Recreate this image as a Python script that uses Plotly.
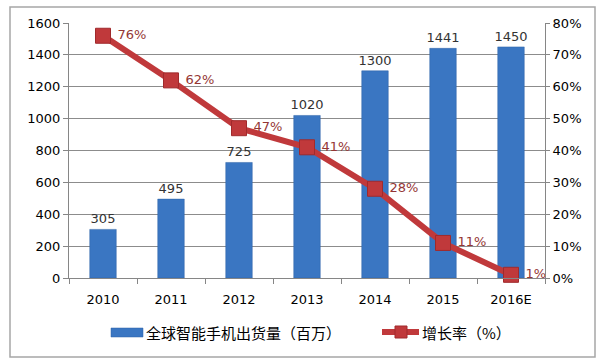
import plotly.graph_objects as go

years = ["2010", "2011", "2012", "2013", "2014", "2015", "2016E"]
shipments = [305, 495, 725, 1020, 1300, 1441, 1450]
growth = [76, 62, 47, 41, 28, 11, 1]
growth_labels = ["76%", "62%", "47%", "41%", "28%", "11%", "1%"]

bar_name = "全球智能手机出货量（百万）"
line_name = "增长率（%）"

BAR_COLOR = "#3A76C2"
LINE_COLOR = "#C0393B"

# plot area in pixels: left 69, right 545, top 23, bottom 278
L, R, T, B = 69, 545, 23, 278
def px(xp):
    return (xp - L) / (R - L)
def py(yp):
    return (B - yp) / (B - T)

fig = go.Figure()
fig.add_trace(go.Bar(
    x=years, y=shipments, name=bar_name,
    marker=dict(color=BAR_COLOR, line=dict(color="#2F62A6", width=0.5)),
    width=0.39,
    text=[str(v) for v in shipments], textposition="outside",
    textfont=dict(color="#333333", size=13, family="DejaVu Sans"),
    constraintext="none",
    cliponaxis=False, showlegend=False,
))
fig.add_trace(go.Scatter(
    x=years, y=growth, name=line_name, yaxis="y2",
    mode="lines+markers+text",
    line=dict(color=LINE_COLOR, width=6),
    marker=dict(symbol="square", size=15, color=LINE_COLOR, line=dict(color="#A02A2C", width=1)),
    text=[" " + t for t in growth_labels], textposition="middle right",
    textfont=dict(color="#943634", size=13, family="DejaVu Sans"),
    cliponaxis=False, showlegend=False,
))

shapes = [
    dict(type="rect", xref="paper", yref="paper",
         x0=px(10), x1=px(595), y0=py(357), y1=py(7),
         line=dict(color="#A6A6A6", width=1.5)),
    dict(type="rect", xref="paper", yref="paper",
         x0=px(111), x1=px(143), y0=py(337), y1=py(328),
         fillcolor=BAR_COLOR, line=dict(color="#2F62A6", width=0.5)),
    dict(type="line", xref="paper", yref="paper",
         x0=px(382), x1=px(419), y0=py(332), y1=py(332),
         line=dict(color=LINE_COLOR, width=6)),
    dict(type="rect", xref="paper", yref="paper",
         x0=px(395), x1=px(407), y0=py(338), y1=py(326),
         fillcolor=LINE_COLOR, line=dict(color="#A02A2C", width=1)),
]

annotations = [
    dict(text=bar_name, xref="paper", yref="paper", x=px(144), y=py(332),
         xanchor="left", yanchor="middle", showarrow=False,
         font=dict(family="Noto Sans CJK SC", size=15, color="#000000")),
    dict(text=line_name, xref="paper", yref="paper", x=px(420), y=py(332),
         xanchor="left", yanchor="middle", showarrow=False,
         font=dict(family="Noto Sans CJK SC", size=15, color="#000000")),
]

fig.update_layout(
    width=600, height=363,
    margin=dict(l=L, r=600 - R, t=T, b=363 - B, autoexpand=False),
    paper_bgcolor="white", plot_bgcolor="white",
    font=dict(family="DejaVu Sans, Noto Sans CJK SC", size=13, color="#000000"),
    showlegend=False,
    xaxis=dict(
        type="category", showgrid=False, showline=True, linecolor="#868686", linewidth=1,
        ticks="outside", tickson="boundaries", ticklen=5, tickcolor="#868686",
        tickfont=dict(size=13, color="#000000"), automargin=False,
        ticklabelstandoff=9,
    ),
    yaxis=dict(
        range=[0, 1600], dtick=200, showgrid=True, gridcolor="#8C8C8C", gridwidth=1,
        showline=True, linecolor="#868686", ticks="outside", ticklen=5, tickcolor="#868686",
        tickfont=dict(size=13), zeroline=False, automargin=False,
    ),
    yaxis2=dict(
        range=[0, 80], dtick=10, ticksuffix="%", overlaying="y", side="right",
        showgrid=False, showline=True, linecolor="#868686", ticks="outside", ticklen=4,
        tickcolor="#868686", tickfont=dict(size=13), zeroline=False, automargin=False,
    ),
    shapes=shapes,
    annotations=annotations,
)

fig.write_html(
    "out.html",
    config={"displayModeBar": False},
    post_script="document.body.style.margin='0';document.body.style.overflow='hidden';",
)
